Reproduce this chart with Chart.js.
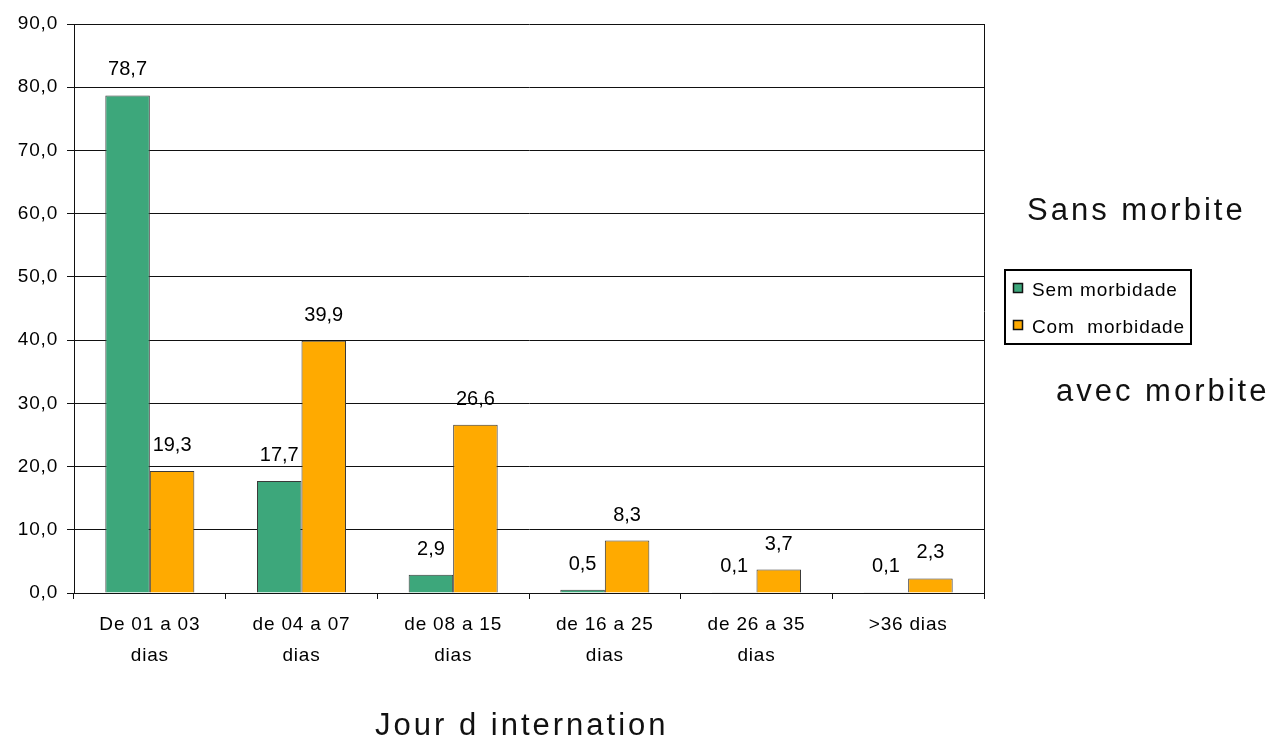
<!DOCTYPE html>
<html>
<head>
<meta charset="utf-8">
<script src="https://cdn.jsdelivr.net/npm/chart.js@4/dist/chart.umd.min.js"></script>
<style>
  html, body { margin: 0; padding: 0; background: #fff; }
  #wrap { width: 1272px; height: 739px; }
</style>
</head>
<body>
<div id="wrap"><canvas id="chart" width="1272" height="739"></canvas></div>
<script>
// Length of stay categories (two-line labels)
const categories = [
  ['De 01 a 03', 'dias'],
  ['de 04 a 07', 'dias'],
  ['de 08 a 15', 'dias'],
  ['de 16 a 25', 'dias'],
  ['de 26 a 35', 'dias'],
  '>36 dias'
];
// Percentages per group
const semMorbidade = [78.7, 17.7, 2.9, 0.5, 0.1, 0.1];
const comMorbidade = [19.3, 39.9, 26.6, 8.3, 3.7, 2.3];
const seriesNames = ['Sem morbidade', 'Com  morbidade'];
// Value axis
const yMin = 0, yMax = 90, yStep = 10;
// Free-standing captions
const captionTop = 'Sans morbite';
const captionBottom = 'avec morbite';
const axisCaption = 'Jour d internation';

const FONT = "'Liberation Sans', Arial, sans-serif";
const fmt = v => v.toFixed(1).replace('.', ',');

// Slightly widened tick text
const spacingPlugin = {
  id: 'spacing',
  beforeUpdate(chart) { chart.ctx.letterSpacing = '0.8px'; },
  beforeDraw(chart) { chart.ctx.letterSpacing = '0.8px'; }
};

// Right border of the plot frame
const framePlugin = {
  id: 'frame',
  afterDraw(chart) {
    const { ctx, chartArea: a } = chart;
    ctx.save();
    ctx.strokeStyle = '#111';
    ctx.lineWidth = 1;
    ctx.beginPath();
    ctx.moveTo(Math.round(a.right) + 0.5, a.top);
    ctx.lineTo(Math.round(a.right) + 0.5, a.bottom + 6);
    ctx.stroke();
    ctx.restore();
  }
};

// Value labels above each bar
const valueLabels = {
  id: 'valueLabels',
  afterDatasetsDraw(chart) {
    const ctx = chart.ctx;
    ctx.save();
    ctx.letterSpacing = '0px';
    ctx.font = '20px ' + FONT;
    ctx.fillStyle = '#000';
    ctx.textAlign = 'center';
    ctx.textBaseline = 'alphabetic';
    chart.data.datasets.forEach((ds, i) => {
      chart.getDatasetMeta(i).data.forEach((bar, j) => {
        ctx.fillText(fmt(ds.data[j]), bar.x, bar.y - 20);
      });
    });
    ctx.restore();
  }
};

// Boxed legend and captions on the right / bottom
const sidePlugin = {
  id: 'side',
  afterDraw(chart) {
    const ctx = chart.ctx;
    ctx.save();
    // legend box
    ctx.letterSpacing = '0px';
    ctx.strokeStyle = '#000';
    ctx.lineWidth = 2;
    ctx.strokeRect(1005, 270, 186, 74);
    ctx.font = '19px ' + FONT;
    ctx.letterSpacing = '0.9px';
    ctx.textAlign = 'left';
    ctx.textBaseline = 'alphabetic';
    const rows = [288, 325];
    chart.data.datasets.forEach((ds, i) => {
      const cy = rows[i];
      ctx.fillStyle = ds.backgroundColor;
      ctx.fillRect(1013, cy - 5, 10, 10);
      ctx.lineWidth = 1.5;
      ctx.strokeStyle = '#111';
      ctx.strokeRect(1013.5, cy - 4.5, 9, 9);
      ctx.fillStyle = '#000';
      ctx.fillText(ds.label, 1032, cy + 8);
    });
    // captions
    ctx.font = '31px ' + FONT;
    ctx.letterSpacing = '3px';
    ctx.fillStyle = '#111';
    ctx.fillText(captionTop, 1027, 220);
    ctx.fillText(captionBottom, 1056, 401);
    ctx.fillText(axisCaption, 375, 735);
    ctx.restore();
  }
};

new Chart(document.getElementById('chart'), {
  type: 'bar',
  data: {
    labels: categories,
    datasets: [
      {
        label: seriesNames[0],
        data: semMorbidade,
        backgroundColor: '#3DA77B',
        borderColor: '#3a3a3a',
        borderWidth: 1
      },
      {
        label: seriesNames[1],
        data: comMorbidade,
        backgroundColor: '#FFAA00',
        borderColor: '#3a3a3a',
        borderWidth: 1
      }
    ]
  },
  options: {
    responsive: false,
    animation: false,
    devicePixelRatio: 1,
    layout: { padding: { left: 0, top: 24, right: 288, bottom: 0 } },
    datasets: { bar: { categoryPercentage: 0.587, barPercentage: 1 } },
    plugins: {
      legend: { display: false },
      tooltip: { enabled: false },
      title: { display: false }
    },
    scales: {
      x: {
        offset: true,
        grid: {
          offset: true,
          drawOnChartArea: false,
          drawTicks: true,
          tickLength: 6,
          color: '#111'
        },
        border: { display: true, color: '#111', width: 1 },
        ticks: {
          color: '#000',
          padding: 11,
          maxRotation: 0,
          autoSkip: false,
          font: { family: FONT, size: 19, lineHeight: 1.6 }
        },
        afterFit(scale) { scale.height = 146; }
      },
      y: {
        min: yMin,
        max: yMax,
        grid: {
          color: '#111',
          lineWidth: 1,
          drawTicks: true,
          tickLength: 7
        },
        border: { display: true, color: '#111', width: 1 },
        ticks: {
          stepSize: yStep,
          color: '#000',
          padding: 9,
          font: { family: FONT, size: 19 },
          callback: v => fmt(v)
        },
        afterFit(scale) { scale.width = 74; }
      }
    }
  },
  plugins: [spacingPlugin, valueLabels, framePlugin, sidePlugin]
});
</script>
</body>
</html>
